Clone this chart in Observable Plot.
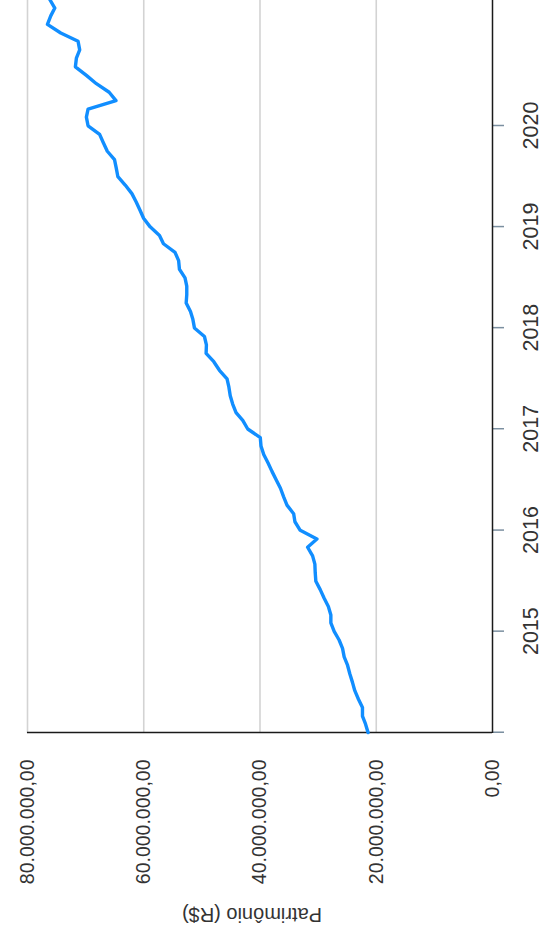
<!DOCTYPE html>
<html><head><meta charset="utf-8">
<script src="https://cdn.jsdelivr.net/npm/d3@7"></script>
<script src="https://cdn.jsdelivr.net/npm/@observablehq/plot@0.6"></script>
<style>
html,body{margin:0;padding:0;background:#fff;overflow:hidden;width:544px;height:939px;}
#wrap{position:absolute;left:0;top:939px;width:939px;height:544px;transform-origin:0 0;transform:rotate(-90deg);}
</style></head><body><div id="wrap"></div>
<script>
const dates = [
  "2013-12-31",
  "2014-01-31","2014-02-28","2014-03-31","2014-04-30","2014-05-31","2014-06-30","2014-07-31","2014-08-31","2014-09-30","2014-10-31","2014-11-30","2014-12-31",
  "2015-01-31","2015-02-28","2015-03-31","2015-04-30","2015-05-31","2015-06-30","2015-07-31","2015-08-31","2015-09-30","2015-10-31","2015-11-30","2015-12-31",
  "2016-01-31","2016-02-29","2016-03-31","2016-04-30","2016-05-31","2016-06-30","2016-07-31","2016-08-31","2016-09-30","2016-10-31","2016-11-30","2016-12-31",
  "2017-01-31","2017-02-28","2017-03-31","2017-04-30","2017-05-31","2017-06-30","2017-07-31","2017-08-31","2017-09-30","2017-10-31","2017-11-30","2017-12-31",
  "2018-01-31","2018-02-28","2018-03-31","2018-04-30","2018-05-31","2018-06-30","2018-07-31","2018-08-31","2018-09-30","2018-10-31","2018-11-30","2018-12-31",
  "2019-01-31","2019-02-28","2019-03-31","2019-04-30","2019-05-31","2019-06-30","2019-07-31","2019-08-31","2019-09-30","2019-10-31","2019-11-30","2019-12-31",
  "2020-01-31","2020-02-29","2020-03-31","2020-04-30","2020-05-31","2020-06-30","2020-07-31","2020-08-31","2020-09-30","2020-10-31","2020-11-30","2020-12-31",
  "2021-01-31","2021-02-28","2021-03-31"
];
// Patrimônio em milhões de R$
const values = [
  21.41,
  21.85,22.37,22.37,23.06,23.69,24.09,24.55,24.94,25.52,25.80,26.39,27.24,
  27.81,27.81,28.24,28.96,29.64,30.39,30.50,30.56,30.95,31.81,30.21,33.08,
  33.99,34.21,35.36,35.93,36.48,37.20,37.94,38.63,39.36,39.83,39.95,42.11,
  42.97,44.12,44.70,45.12,45.35,45.67,46.98,47.95,49.27,49.22,49.56,51.28,
  51.55,51.96,52.70,52.60,52.60,52.90,53.86,54.00,54.62,56.61,57.29,58.90,
  60.03,60.62,61.30,62.04,63.19,64.45,64.73,65.03,66.27,66.95,67.59,69.58,
  69.87,69.58,64.78,65.95,68.15,69.87,71.76,71.59,71.02,71.30,74.28,76.57,
  76.00,75.30,76.17
];
const yTicks = [0, 20e6, 40e6, 60e6, 80e6];
const yearTicks = ["2014-01-01","2015-01-01","2016-01-01","2017-01-01","2018-01-01","2019-01-01","2020-01-01"];
const yearLabels = ["","2015","2016","2017","2018","2019","2020"];
const yLabel = "Patrimônio (R$)";

const data = dates.map((d, i) => ({date: new Date(d), value: values[i] * 1e6}));
const br = d3.formatLocale({decimal: ",", thousands: ".", grouping: [3], currency: ["R$ ", ""]});
const fmt = br.format(",.2f");
const tickDates = yearTicks.map(d => new Date(d));
const font = "'Liberation Sans', Arial, Helvetica, sans-serif";

const chart = Plot.plot({
  width: 939, height: 544,
  marginLeft: 206, marginRight: 0, marginTop: 27, marginBottom: 52,
  style: {fontFamily: font, background: "#fff", color: "#333", overflow: "visible"},
  x: {type: "utc", domain: [data[0].date, data[data.length - 1].date]},
  y: {domain: [0, 80e6]},
  marks: [
    Plot.gridY(yTicks.filter(d => d > 0), {stroke: "#d3d3d3", strokeOpacity: 1, strokeWidth: 1.6}),
    Plot.axisY(yTicks, {tickSize: 0, tickPadding: 27, tickFormat: fmt, fontSize: 19.5, fill: "#333", label: null}),
    Plot.axisX(tickDates, {tickSize: 12, tickPadding: 18, stroke: "#7b8fa0", strokeWidth: 1.5, fill: "#333", fontSize: 21.5, label: null,
      tickFormat: d => yearLabels[yearTicks.indexOf(d.toISOString().slice(0, 10))]}),
    Plot.ruleX([data[0].date], {stroke: "#1a1a1a", strokeWidth: 1.3}),
    Plot.ruleY([0], {stroke: "#1a1a1a", strokeWidth: 1.5}),
    Plot.line(data, {x: "date", y: "value", stroke: "#118eff", strokeWidth: 3.4}),
    Plot.text([yLabel], {frameAnchor: "left", textAnchor: "middle", dx: -182, dy: -8, rotate: -90, fontSize: 20, fill: "#333"})
  ]
});
document.getElementById("wrap").appendChild(chart);
</script>
</body></html>
